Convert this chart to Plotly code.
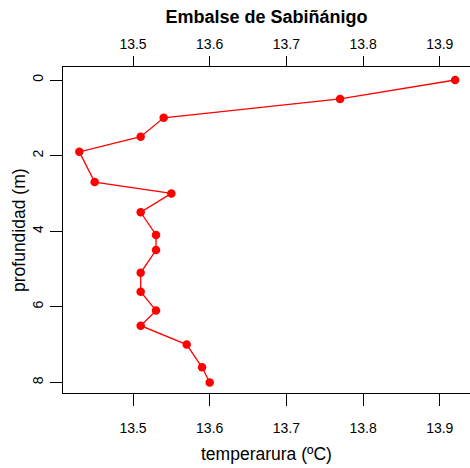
import plotly.graph_objects as go

# data
temperature = [13.92, 13.77, 13.54, 13.51, 13.43, 13.45, 13.55, 13.51, 13.53, 13.53,
               13.51, 13.51, 13.53, 13.51, 13.57, 13.59, 13.60]
depth = [0.0, 0.5, 1.0, 1.5, 1.9, 2.7, 3.0, 3.5, 4.1, 4.5,
         5.1, 5.6, 6.1, 6.5, 7.0, 7.6, 8.0]
x_ticks = [13.5, 13.6, 13.7, 13.8, 13.9]
x_tick_labels = ["13.5", "13.6", "13.7", "13.8", "13.9"]
y_ticks = [0, 2, 4, 6, 8]
y_tick_labels = ["0", "2", "4", "6", "8"]

FONT = "Liberation Sans, Arial, sans-serif"
xr = [13.4087, 13.9394]
yr = [8.28, -0.344]

fig = go.Figure()
fig.add_trace(go.Scatter(
    x=temperature, y=depth, mode="lines+markers",
    line=dict(color="#ff0000", width=1.3),
    marker=dict(color="#ff0000", size=8.5, symbol="circle"),
    showlegend=False, hoverinfo="skip"))
fig.add_trace(go.Scatter(
    x=temperature, y=depth, xaxis="x2", mode="markers",
    marker=dict(opacity=0), showlegend=False, hoverinfo="skip"))

axis_common = dict(showgrid=False, zeroline=False, showline=True, linecolor="black",
                   linewidth=1.2, ticks="outside", tickcolor="black", tickwidth=1.2,
                   automargin=False,
                   tickfont=dict(family=FONT, size=14, color="black"))

fig.update_layout(
    width=470, height=468,
    margin=dict(l=63, r=0, t=67, b=75, autoexpand=False),
    paper_bgcolor="white", plot_bgcolor="white",
    font=dict(family=FONT, color="black"),
    title=dict(text="<b>Embalse de Sabiñánigo</b>", x=0.5, xref="paper",
               y=1 - 17 / 468, yref="container", yanchor="middle", xanchor="center",
               font=dict(family=FONT, size=18, color="black")),
    xaxis=dict(range=xr, tickvals=x_ticks, ticktext=x_tick_labels, ticklen=12,
               ticklabelstandoff=10, **axis_common),
    xaxis2=dict(range=xr, tickvals=x_ticks, ticktext=x_tick_labels, ticklen=10,
                overlaying="x", side="top", matches="x", ticklabelstandoff=1,
                **axis_common),
    yaxis=dict(range=yr, tickvals=y_ticks, ticktext=y_tick_labels, ticklen=12,
               tickangle=-90, ticklabelstandoff=1, **axis_common),
    annotations=[
        dict(text="temperarura (ºC)", x=0.5, y=-(454 - 393) / 326, xref="paper", yref="paper",
             showarrow=False, xanchor="center", yanchor="middle",
             font=dict(family=FONT, size=17.5, color="black")),
        dict(text="profundidad (m)", x=(19 - 63) / 407, y=0.5, xref="paper", yref="paper",
             showarrow=False, xanchor="center", yanchor="middle", textangle=-90,
             font=dict(family=FONT, size=17.5, color="black")),
    ],
)

fig.write_html("out.html", config={"displayModeBar": False},
               post_script="document.body.style.margin='0';document.body.style.overflow='hidden';")
